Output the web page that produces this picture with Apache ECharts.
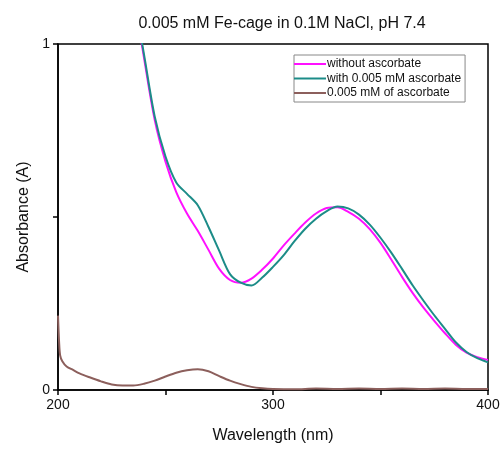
<!DOCTYPE html>
<html>
<head>
<meta charset="utf-8">
<script src="https://cdn.jsdelivr.net/npm/echarts@6/dist/echarts.min.js"></script>
<style>html,body{margin:0;padding:0;background:#fff}#c{width:503px;height:449px}</style>
</head>
<body>
<div id="c"></div>
<script>
var titleText = '0.005 mM Fe-cage in 0.1M NaCl, pH 7.4';
var seriesNames = ['without ascorbate', 'with 0.005 mM ascorbate', '0.005 mM of ascorbate'];
var xTickLabels = [200, 300, 400];
var yTickLabels = [0, 1];

var wlMain = [235, 240, 245, 250, 255, 260, 265, 270, 275, 280, 285, 290, 295, 300, 305, 310, 315, 320, 325, 330, 335, 340, 345, 350, 355, 360, 365, 370, 375, 380, 385, 390, 395, 400];
var withoutAsc = [1.15, 0.96, 0.78, 0.66, 0.572, 0.51, 0.46, 0.405, 0.35, 0.318, 0.31, 0.322, 0.348, 0.38, 0.418, 0.452, 0.484, 0.51, 0.526, 0.528, 0.515, 0.495, 0.465, 0.425, 0.377, 0.327, 0.28, 0.238, 0.2, 0.164, 0.131, 0.108, 0.095, 0.087];
var withAsc = [1.15, 0.97, 0.79, 0.675, 0.60, 0.567, 0.534, 0.471, 0.402, 0.335, 0.31, 0.302, 0.325, 0.356, 0.39, 0.43, 0.466, 0.495, 0.517, 0.53, 0.525, 0.507, 0.478, 0.44, 0.397, 0.35, 0.302, 0.258, 0.216, 0.177, 0.138, 0.11, 0.092, 0.08];

var wlAsc = [200, 200.5, 201, 202, 204, 207, 210, 215, 220, 225, 230, 235, 240, 245, 250, 255, 260, 265, 270, 275, 280, 285, 290, 295, 300, 310, 320, 330, 340, 350, 360, 370, 380, 390, 400];
var ascOnly = [0.215, 0.14, 0.10, 0.083, 0.068, 0.058, 0.048, 0.036, 0.025, 0.016, 0.013, 0.013, 0.018, 0.027, 0.039, 0.05, 0.057, 0.06, 0.054, 0.04, 0.027, 0.017, 0.009, 0.005, 0.003, 0.002, 0.004, 0.003, 0.004, 0.003, 0.004, 0.003, 0.004, 0.003, 0.003];

function pairs(xs, ys) { return xs.map(function (x, i) { return [x, ys[i]]; }); }

var FONT = 'Liberation Sans, Arial, sans-serif';
var chart = echarts.init(document.getElementById('c'), null, {renderer: 'canvas'});
chart.setOption({
  animation: false,
  backgroundColor: '#fff',
  title: {
    text: titleText, left: 277, top: 11, textAlign: 'center',
    textStyle: {fontFamily: FONT, fontSize: 16, fontWeight: 'normal', color: '#111'}
  },
  grid: {left: 58, right: 15, top: 44, bottom: 59, show: true, borderColor: '#000', borderWidth: 1.5, backgroundColor: 'transparent'},
  legend: {
    left: 294, top: 55, orient: 'vertical', itemGap: 0.5, itemWidth: 32, itemHeight: 2,
    icon: 'rect', borderColor: '#888', borderWidth: 1, padding: [2, 4, 2, 0],
    textStyle: {fontFamily: FONT, fontSize: 12, color: '#111', lineHeight: 14, padding: [0, 0, 0, -4]},
    data: seriesNames
  },
  xAxis: {
    type: 'value', min: 200, max: 400, interval: 50,
    name: 'Wavelength (nm)', nameLocation: 'middle', nameGap: 38,
    nameTextStyle: {fontFamily: FONT, fontSize: 16, color: '#111'},
    axisLine: {lineStyle: {color: '#000', width: 1.5}},
    axisTick: {show: true, length: 5, lineStyle: {color: '#000', width: 1.5}},
    splitLine: {show: false},
    axisLabel: {fontFamily: FONT, fontSize: 14, color: '#111', margin: 8,
      formatter: function (v) { return xTickLabels.indexOf(v) >= 0 ? String(v) : ''; }}
  },
  yAxis: {
    type: 'value', min: 0, max: 1, interval: 0.5,
    name: 'Absorbance (A)', nameLocation: 'middle', nameGap: 26,
    nameTextStyle: {fontFamily: FONT, fontSize: 16, color: '#111'},
    axisLine: {show: true, lineStyle: {color: '#000', width: 1.5}},
    axisTick: {show: true, length: 5, lineStyle: {color: '#000', width: 1.5}},
    splitLine: {show: false},
    axisLabel: {fontFamily: FONT, fontSize: 14, color: '#111', margin: 8,
      formatter: function (v) { return yTickLabels.indexOf(v) >= 0 ? String(v) : ''; }}
  },
  series: [
    {name: seriesNames[0], type: 'line', data: pairs(wlMain, withoutAsc), smooth: 0.3, showSymbol: false, clip: true,
      lineStyle: {color: '#ff10ff', width: 2}, itemStyle: {color: '#ff10ff'}},
    {name: seriesNames[1], type: 'line', data: pairs(wlMain, withAsc), smooth: 0.3, showSymbol: false, clip: true,
      lineStyle: {color: '#1c8c88', width: 2}, itemStyle: {color: '#1c8c88'}},
    {name: seriesNames[2], type: 'line', data: pairs(wlAsc, ascOnly), smooth: 0.3, showSymbol: false, clip: true,
      lineStyle: {color: '#8c5f5c', width: 2}, itemStyle: {color: '#8c5f5c'}}
  ]
});
</script>
</body>
</html>
